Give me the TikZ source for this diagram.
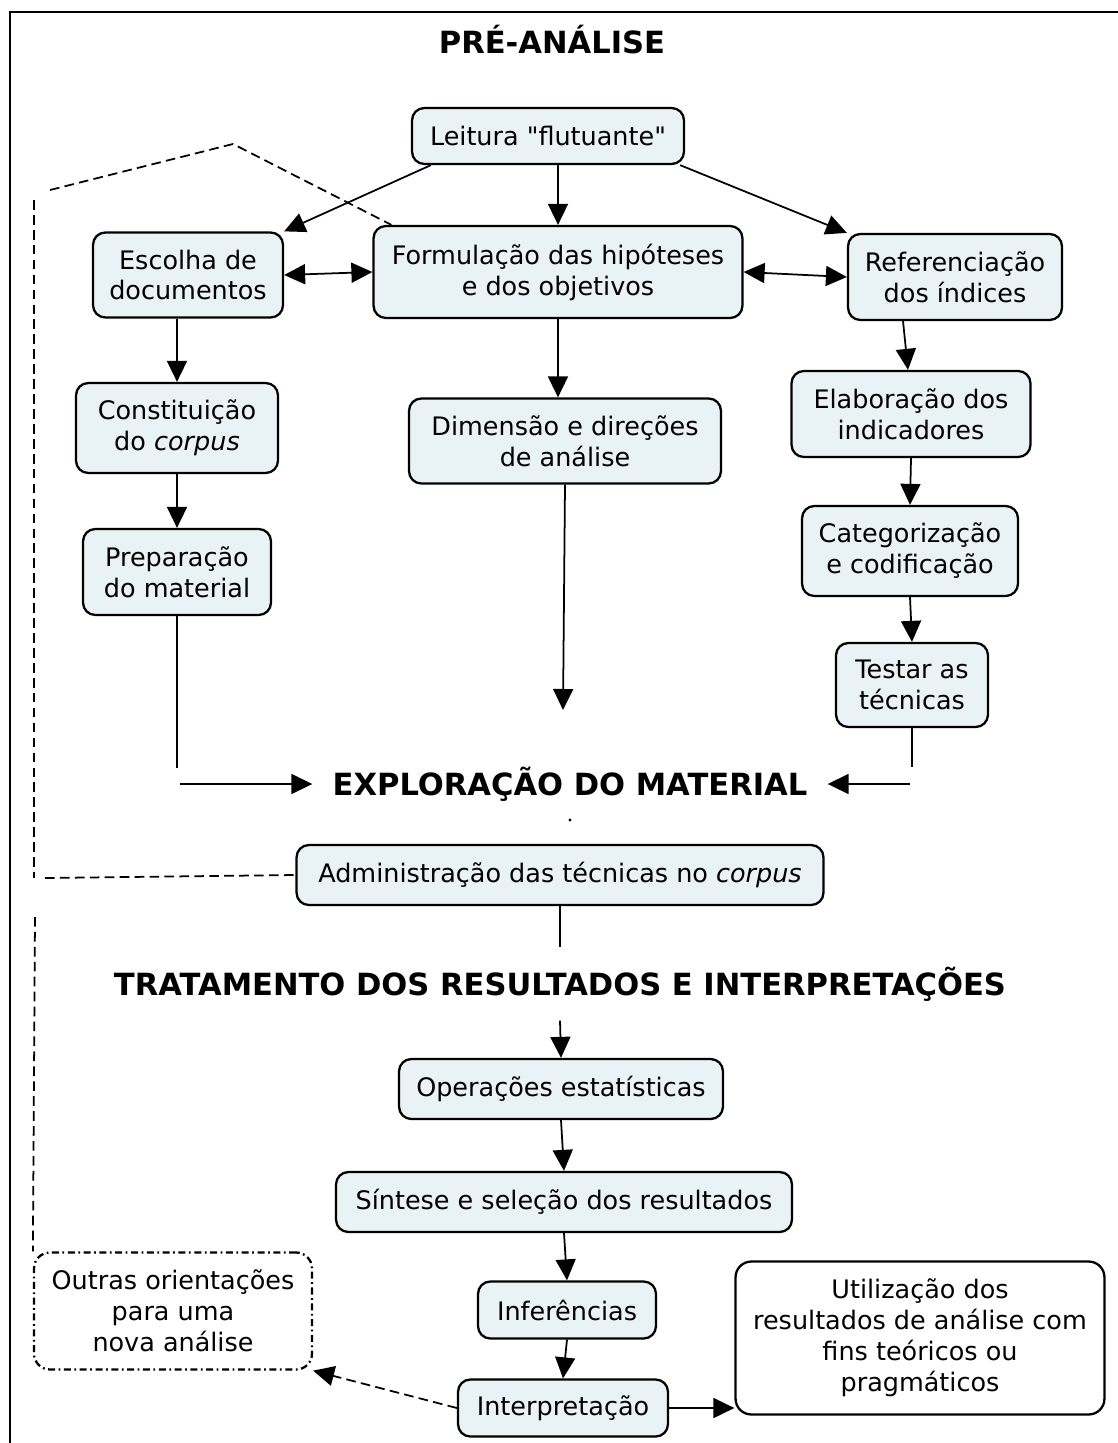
\documentclass[tikz,border=0pt]{standalone}
\usepackage{fontspec}
\setmainfont{DejaVu Sans}[Ligatures=TeXOff]
\usetikzlibrary{arrows.meta}
\definecolor{boxfill}{RGB}{233,242,245}
\tikzset{
  px/.style={x=0.02cm,y=-0.02cm},
  txt/.style={font=\fontsize{14.5}{17.6}\selectfont, align=center},
  head/.style={font=\fontsize{17.4}{20}\selectfont\bfseries, inner sep=0pt},
  box/.style={txt, draw, line width=1.3pt, rounded corners=7pt, fill=boxfill, inner sep=0pt},
  wbox/.style={txt, draw, line width=1.3pt, rounded corners=9pt, fill=white, inner sep=0pt},
  tip/.tip={Triangle[length=0.42cm,width=0.4cm]},
  arr/.style={line width=1pt, -tip},
  darr/.style={line width=1pt, tip-tip},
  plain/.style={line width=1pt},
  dsh/.style={line width=1pt, dash pattern=on 5.5pt off 3pt},
}
\begin{document}
\begin{tikzpicture}[px]
\useasboundingbox (0,0) rectangle (1118,1443);
% outer frame
\draw[line width=1.3pt] (10,1443) -- (10,12) -- (1118,12);

% headings
\node[head] (hpre) at (552,40) {PRÉ-ANÁLISE};
\node[head, inner xsep=0.4cm, inner ysep=0.2cm] (exp) at (570,784) {EXPLORAÇÃO DO MATERIAL};
\node[head, inner ysep=0.38cm] (tra) at (560,984) {TRATAMENTO DOS RESULTADOS E INTERPRETAÇÕES};

% pre-analysis boxes
\node[box, minimum width=5.44cm, minimum height=1.12cm] (lei) at (548,136) {Leitura "flutuante"};
\node[box, minimum width=3.8cm, minimum height=1.7cm] (esc) at (188,275) {Escolha de\\documentos};
\node[box, minimum width=7.38cm, minimum height=1.84cm] (for) at (558,272) {Formulação das hipóteses\\e dos objetivos};
\node[box, minimum width=4.28cm, minimum height=1.72cm] (ref) at (955,277) {Referenciação\\dos índices};
\node[box, minimum width=4.04cm, minimum height=1.8cm] (con) at (177,428) {Constituição\\do \textit{corpus}};
\node[box, minimum width=6.24cm, minimum height=1.7cm] (dim) at (565,441) {Dimensão e direções\\de análise};
\node[box, minimum width=4.78cm, minimum height=1.72cm] (ela) at (911,414) {Elaboração dos\\indicadores};
\node[box, minimum width=3.76cm, minimum height=1.72cm] (pre) at (177,572) {Preparação\\do material};
\node[box, minimum width=4.32cm, minimum height=1.8cm] (cat) at (910,551) {Categorização\\e codificação};
\node[box, minimum width=3.04cm, minimum height=1.68cm] (tes) at (912,685) {Testar as\\técnicas};

% exploration and treatment boxes
\node[box, minimum width=10.54cm, minimum height=1.2cm] (adm) at (560,875) {Administração das técnicas no \textit{corpus}};
\node[box, minimum width=6.48cm, minimum height=1.2cm] (ope) at (561,1089) {Operações estatísticas};
\node[box, minimum width=9.12cm, minimum height=1.2cm] (sin) at (564,1202) {Síntese e seleção dos resultados};
\node[box, minimum width=3.56cm, minimum height=1.14cm] (inf) at (567,1310) {Inferências};
\node[box, minimum width=4.2cm, minimum height=1.14cm] (int) at (563,1408) {Interpretação};
\node[wbox, dash pattern=on 4pt off 2pt on 1pt off 2pt, minimum width=5.56cm, minimum height=2.34cm] (out) at (173,1311) {Outras orientações\\para uma\\nova análise};
\node[wbox, minimum width=7.38cm, minimum height=3.06cm] (uti) at (920,1338) {Utilização dos\\resultados de análise com\\fins teóricos ou\\pragmáticos};

% free ends
\coordinate (dimEnd) at (563,710);
\coordinate (preEnd) at (177,768);
\coordinate (preStart) at (180,784);
\coordinate (tesEnd) at (912,767);
\coordinate (tesStart) at (910,784);
\coordinate (d1) at (50,190);
\coordinate (d2) at (233,144);
\coordinate (v1) at (34,200);
\coordinate (v2) at (34,878);
\coordinate (h1) at (45,878);
\coordinate (v3) at (35,917);

% pre-analysis connectors
\draw[arr] ([xshift=0.4cm]lei.south west) -- (esc.north east);
\draw[arr] (lei.south -| for.north) -- (for.north);
\draw[arr] ([xshift=-0.1cm]lei.south east) -- (ref.north west);
\draw[darr] (esc.east) -- (for.west);
\draw[darr] (for.east) -- (ref.west);
\draw[arr] (con.north |- esc.south) -- (con.north);
\draw[arr] (for.south) -- (for.south |- dim.north);
\draw[arr] ([xshift=-1.04cm]ref.south) -- ([xshift=-0.06cm]ela.north);
\draw[arr] (con.south) -- (pre.north);
\draw[arr] (ela.south) -- (cat.north);
\draw[arr] (cat.south) -- (tes.north);
\draw[arr] (dim.south) -- (dimEnd);
\draw[plain] (pre.south) -- (preEnd);
\draw[arr] (preStart) -- (exp.west);
\draw[plain] (tes.south) -- (tesEnd);
\draw[arr] (tesStart) -- (exp.east);
\fill (570,820) circle (0.9pt);

% treatment connectors
\draw[plain] (adm.south) -- (adm.south |- tra.north);
\draw[arr] (tra.south) -- (ope.north);
\draw[arr] (ope.south) -- (sin.north);
\draw[arr] (sin.south) -- (inf.north);
\draw[arr] (inf.south) -- (int.north);
\draw[arr] (int.east) -- (int.east -| uti.west);
\draw[dsh, -tip] (int.west) -- (out.south east);

% feedback paths
\draw[dsh] (d1) -- (d2) -- ([xshift=0.38cm]for.north west);
\draw[dsh] (v1) -- (v2);
\draw[dsh] (h1) -- (adm.west);
\draw[dsh] (v3) -- (out.north west);
\end{tikzpicture}
\end{document}
